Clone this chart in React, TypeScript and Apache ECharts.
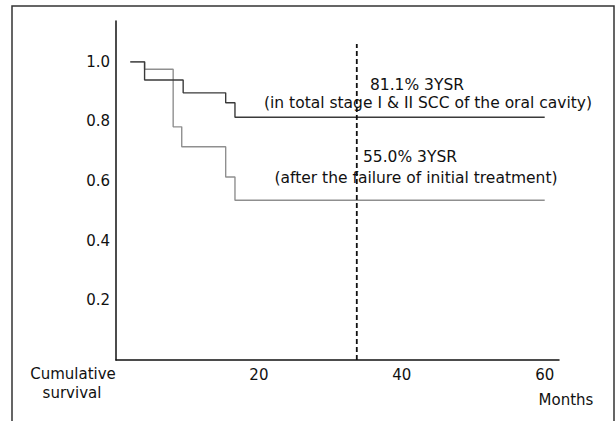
import React, { useEffect, useRef } from "react";
import * as echarts from "echarts";

// Kaplan-Meier step curves (months, cumulative survival)
const monthsTotal = [2, 4, 9.4, 15.35, 16.65, 60];
const survivalTotal = [1.0, 0.939, 0.896, 0.863, 0.814, 0.814];
const monthsFailure = [2, 4, 8.0, 9.2, 15.35, 16.65, 60];
const survivalFailure = [1.0, 0.975, 0.782, 0.715, 0.614, 0.536, 0.536];
const threeYearMark = 33.7;
const xTickLabels = [20, 40, 60];
const yTickLabels = [0.2, 0.4, 0.6, 0.8, 1.0];
const annotations = [
  "81.1% 3YSR",
  "(in total stage I & II SCC of the oral cavity)",
  "55.0% 3YSR",
  "(after the failure of initial treatment)",
];

const FONT = "DejaVu Sans";

export default function App() {
  const ref = useRef<HTMLDivElement>(null);
  useEffect(() => {
    if (!ref.current) return;
    const chart = echarts.init(ref.current, undefined, { renderer: "svg" });
    const textStyle = (text: string, size = 15) => ({
      text,
      fill: "#111",
      fontSize: size,
      fontFamily: FONT,
      textAlign: "center",
      textVerticalAlign: "middle",
    });
    chart.setOption({
      animation: false,
      backgroundColor: "#fff",
      grid: { left: 116, top: 21, right: 57, bottom: 61 },
      xAxis: {
        type: "value",
        min: 0,
        max: 62,
        axisLine: { show: true, lineStyle: { color: "#111", width: 1.5 } },
        axisTick: { show: false },
        splitLine: { show: false },
        axisLabel: {
          customValues: xTickLabels,
          color: "#111",
          fontSize: 15,
          fontFamily: FONT,
          margin: 7,
        },
      },
      yAxis: {
        type: "value",
        min: 0,
        max: 1.137,
        axisLine: { show: true, onZero: false, lineStyle: { color: "#111", width: 1.5 } },
        axisTick: { show: false },
        splitLine: { show: false },
        axisLabel: {
          customValues: yTickLabels,
          formatter: (v: number) => v.toFixed(1),
          color: "#111",
          fontSize: 15,
          fontFamily: FONT,
          margin: 6,
        },
      },
      series: [
        {
          type: "line",
          step: "end",
          symbol: "none",
          lineStyle: { color: "#8f8f8f", width: 1.4 },
          data: monthsFailure.map((m, i) => [m, survivalFailure[i]]),
          z: 2,
        },
        {
          type: "line",
          step: "end",
          symbol: "none",
          lineStyle: { color: "#3a3a3a", width: 1.4 },
          data: monthsTotal.map((m, i) => [m, survivalTotal[i]]),
          z: 3,
        },
        {
          type: "line",
          symbol: "none",
          lineStyle: { color: "#111", width: 1.8, type: [5, 3] },
          data: [
            [threeYearMark, 0],
            [threeYearMark, 1.06],
          ],
          z: 4,
        },
      ],
      graphic: [
        {
          type: "rect",
          shape: { x: 12, y: 6, width: 602, height: 440 },
          style: { fill: "none", stroke: "#333", lineWidth: 1.5 },
          silent: true,
          z: 10,
        },
        { type: "text", x: 417, y: 85, style: textStyle(annotations[0], 15.5) },
        { type: "text", x: 428, y: 103, style: textStyle(annotations[1], 15.5) },
        { type: "text", x: 410, y: 157, style: textStyle(annotations[2], 15.5) },
        { type: "text", x: 416, y: 178, style: textStyle(annotations[3], 15.5) },
        { type: "text", x: 73, y: 374, style: textStyle("Cumulative") },
        { type: "text", x: 72, y: 393, style: textStyle("survival") },
        { type: "text", x: 566, y: 400, style: textStyle("Months") },
      ],
    });
    return () => chart.dispose();
  }, []);
  return (
    <div
      ref={ref}
      style={{ position: "fixed", left: 0, top: 0, width: 616, height: 421 }}
    />
  );
}
